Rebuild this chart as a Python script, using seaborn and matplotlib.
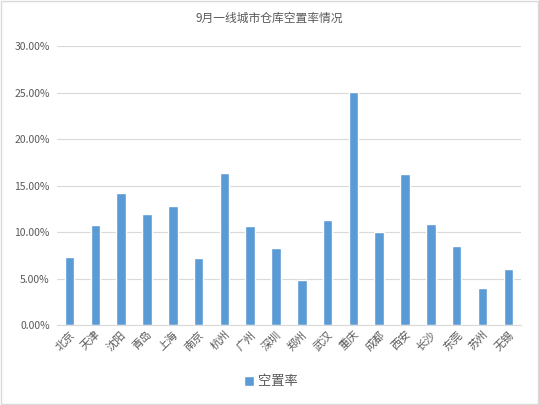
import numpy as np
import pandas as pd
import matplotlib
matplotlib.use("Agg")
import matplotlib.pyplot as plt
from matplotlib.patches import Rectangle
from matplotlib.ticker import FuncFormatter
import seaborn as sns

# 数据
cities = ["北京", "天津", "沈阳", "青岛", "上海", "南京", "杭州", "广州", "深圳",
          "郑州", "武汉", "重庆", "成都", "西安", "长沙", "东莞", "苏州", "无锡"]
vacancy = [7.3, 10.8, 14.2, 11.9, 12.8, 7.2, 16.4, 10.6, 8.3,
           4.8, 11.3, 25.1, 10.0, 16.2, 10.9, 8.5, 4.0, 6.0]
series_name = "空置率"
title = "9月一线城市仓库空置率情况"
y_ticks = [0, 5, 10, 15, 20, 25, 30]

df = pd.DataFrame({"city": cities, "value": vacancy, "series": series_name})

sns.set_theme(style="white")
plt.rcParams["font.family"] = ["Noto Sans CJK SC", "DejaVu Sans"]

bar_color = "#5b9bd5"
text_color = "#595959"
grid_color = "#d9d9d9"

fig = plt.figure(figsize=(5.39, 4.05), dpi=100)
ax = fig.add_axes([0.105, 0.1975, 0.862, 0.6885])

sns.barplot(data=df, x="city", y="value", hue="series", palette=[bar_color],
            width=0.37, dodge=False, ax=ax, legend=True, saturation=1)

ax.set_ylim(0, 30)
ax.set_yticks(y_ticks)
ax.yaxis.set_major_formatter(FuncFormatter(lambda v, _: f"{v:.2f}%"))
ax.set_xlim(-0.5, len(cities) - 0.5)
ax.grid(axis="y", color=grid_color, linewidth=0.8)
ax.set_axisbelow(True)
for side in ["top", "right", "left"]:
    ax.spines[side].set_visible(False)
ax.spines["bottom"].set_color(grid_color)
ax.spines["bottom"].set_linewidth(0.8)
ax.set_xlabel("")
ax.set_ylabel("")
ax.tick_params(axis="y", labelsize=7.5, colors=text_color, length=0, pad=5)
ax.tick_params(axis="x", labelsize=8, colors=text_color, length=0, pad=3)
for lbl in ax.get_xticklabels():
    lbl.set_rotation(45)
    lbl.set_ha("right")
    lbl.set_rotation_mode("anchor")

ax.get_legend().remove()
handles, labels = ax.get_legend_handles_labels()
fig.legend(handles[:1], [series_name], loc="center", bbox_to_anchor=(0.503, 0.057),
           frameon=False, fontsize=9.5, labelcolor=text_color,
           handlelength=0.75, handleheight=0.75, handletextpad=0.3)

fig.text(0.5, 0.955, title, ha="center", va="center", fontsize=8.5, color=text_color)

fig.patches.append(Rectangle((0.002, 0.002), 0.996, 0.996, transform=fig.transFigure,
                             fill=False, edgecolor=grid_color, linewidth=1))

fig.savefig("out.png", dpi=100)
